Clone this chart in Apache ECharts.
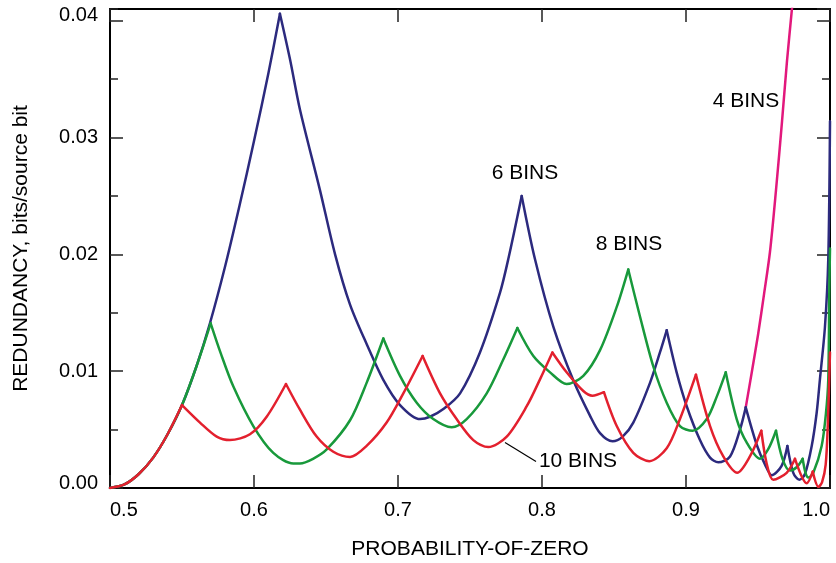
<!DOCTYPE html>
<html>
<head>
<meta charset="utf-8">
<script src="https://cdn.jsdelivr.net/npm/echarts@6/dist/echarts.min.js"></script>
<style>
	html, body { margin: 0; padding: 0; background: #fff; }
	#chart { width: 836px; height: 563px; }
</style>
</head>
<body>
<div id="chart"></div>
<script>
	// values, [probability-of-zero, redundancy]
	var bins4 = [
		[0.9415, 0.0069], [0.9458, 0.0100], [0.9500, 0.0131], [0.9542, 0.0166],
		[0.9583, 0.0202], [0.9625, 0.0255], [0.9667, 0.0314], [0.9701, 0.0365],
		[0.9738, 0.0413]
	];
	var bins6 = [
		[0.5, 0], [0.51, 0.0003], [0.52, 0.0012], [0.53, 0.0026], [0.54, 0.0046],
		[0.55, 0.0071], [0.56, 0.0104], [0.5694, 0.0141], [0.58, 0.0190],
		[0.59, 0.0242], [0.60, 0.0297], [0.61, 0.0355], [0.618, 0.0406],
		[0.625, 0.0367], [0.6319, 0.0324], [0.6458, 0.0255], [0.6563, 0.0200],
		[0.6667, 0.0157], [0.6783, 0.0123], [0.6896, 0.0093], [0.7014, 0.0071],
		[0.7153, 0.0059], [0.7222, 0.0061], [0.732, 0.0068], [0.7431, 0.0081],
		[0.7569, 0.0116], [0.7708, 0.0167], [0.7766, 0.0196], [0.7859, 0.0250],
		[0.7951, 0.0196], [0.8079, 0.0138], [0.8218, 0.0092], [0.8333, 0.0062],
		[0.8403, 0.0047], [0.849, 0.0040], [0.856, 0.0044], [0.8634, 0.0056],
		[0.875, 0.0090], [0.8819, 0.0116], [0.8866, 0.0135], [0.8935, 0.0099],
		[0.9005, 0.0070], [0.9097, 0.0041], [0.9167, 0.0026], [0.9224, 0.0022],
		[0.9306, 0.0027], [0.9375, 0.0050], [0.9415, 0.0069], [0.9491, 0.0037],
		[0.9549, 0.0020], [0.9595, 0.0011], [0.9664, 0.0019], [0.9704, 0.0036],
		[0.9745, 0.0013], [0.9787, 0.0007], [0.9826, 0.0012], [0.9873, 0.0036],
		[0.9907, 0.0064], [0.993, 0.0093], [0.9965, 0.0138], [0.9988, 0.0196],
		[1.0, 0.0314]
	];
	var bins8 = [
		[0.5, 0], [0.51, 0.0003], [0.52, 0.0012], [0.53, 0.0026], [0.54, 0.0046],
		[0.55, 0.0071], [0.56, 0.0104], [0.5699, 0.0141], [0.577, 0.0115],
		[0.5856, 0.0087], [0.5995, 0.0053], [0.6134, 0.0030], [0.6273, 0.0021],
		[0.6319, 0.0021], [0.641, 0.0025], [0.6505, 0.0033], [0.6667, 0.0058],
		[0.6782, 0.0090], [0.6898, 0.0128], [0.7014, 0.0096], [0.713, 0.0073],
		[0.7245, 0.0059], [0.7373, 0.0052], [0.7477, 0.0059], [0.7616, 0.0081],
		[0.7731, 0.0110], [0.7829, 0.0137], [0.794, 0.0113], [0.8056, 0.0099],
		[0.8171, 0.0089], [0.8287, 0.0096], [0.8403, 0.0118], [0.8519, 0.0155],
		[0.8599, 0.0187], [0.868, 0.0147], [0.8773, 0.0104], [0.8866, 0.0073],
		[0.8958, 0.0053], [0.9046, 0.0049], [0.9144, 0.0059], [0.9213, 0.0078],
		[0.9276, 0.0099], [0.9352, 0.0059], [0.9421, 0.0039], [0.9514, 0.0025],
		[0.957, 0.0033], [0.9625, 0.0049], [0.967, 0.0025], [0.9722, 0.0015],
		[0.977, 0.0018], [0.981, 0.0025], [0.983, 0.0013], [0.985, 0.0009],
		[0.9884, 0.0013], [0.9942, 0.0036], [0.9972, 0.0064], [0.9988, 0.0093],
		[0.9995, 0.0167], [1.0, 0.0205]
	];
	var bins10 = [
		[0.5, 0], [0.51, 0.0003], [0.52, 0.0012], [0.53, 0.0026], [0.54, 0.0046],
		[0.55, 0.0071], [0.5625, 0.0056], [0.5741, 0.0044], [0.5833, 0.0041],
		[0.5972, 0.0046], [0.6088, 0.0061], [0.6222, 0.0089], [0.6319, 0.0067],
		[0.6435, 0.0044], [0.6551, 0.0031], [0.6667, 0.00265], [0.6782, 0.0036],
		[0.6921, 0.0056], [0.7037, 0.0081], [0.7171, 0.0113], [0.7292, 0.0081],
		[0.7407, 0.0059], [0.7523, 0.0041], [0.7627, 0.0035], [0.7755, 0.0044],
		[0.7894, 0.0070], [0.7986, 0.0093], [0.8072, 0.0116], [0.8171, 0.0099],
		[0.8287, 0.0083], [0.835, 0.0079], [0.843, 0.0082], [0.8519, 0.0053],
		[0.8634, 0.0030], [0.8745, 0.0023], [0.8866, 0.0034], [0.8958, 0.0059],
		[0.9069, 0.0097], [0.9167, 0.0053], [0.9259, 0.0027], [0.9356, 0.0013],
		[0.9444, 0.0027], [0.9523, 0.0049], [0.956, 0.0021], [0.9606, 0.0007],
		[0.9699, 0.0013], [0.9757, 0.0025], [0.9803, 0.0010], [0.9838, 0.0004],
		[0.988, 0.0014], [0.992, 0.0001], [0.9945, 0.0005], [0.997, 0.0020],
		[0.9985, 0.0055], [1.0, 0.0116]
	];
	var seriesNames = ['4 BINS', '6 BINS', '8 BINS', '10 BINS'];
	var seriesColors = ['#e2187c', '#2c2a7e', '#18993b', '#e3202e'];

	var FONT = '"Liberation Sans", Arial, Helvetica, sans-serif';
	var tickStyle = {color: '#222', width: 1.5};
	var lineAxis = {show: true, onZero: false, lineStyle: {color: '#000', width: 2}};

	function xAx(pos, labels){
		return {
			type: 'value', position: pos, min: 0.5, max: 1.0, interval: 0.1,
			axisLine: lineAxis,
			axisTick: {show: true, inside: true, length: 13, lineStyle: tickStyle},
			axisLabel: labels ? {
				show: true, color: '#000', fontSize: 20, fontFamily: FONT, margin: 12,
				alignMinLabel: 'left', alignMaxLabel: 'right',
				formatter: function(v){ return v.toFixed(1); }
			} : {show: false},
			splitLine: {show: false},
			name: labels ? 'PROBABILITY-OF-ZERO' : '',
			nameLocation: 'middle', nameGap: 51,
			nameTextStyle: {color: '#000', fontSize: 21, fontFamily: FONT}
		};
	}
	function yAx(pos, interval, len, labels, line){
		return {
			type: 'value', position: pos, min: 0, max: 0.041, interval: interval,
			axisLine: line ? lineAxis : {show: false, onZero: false},
			axisTick: {show: true, inside: true, length: len, lineStyle: tickStyle},
			axisLabel: labels ? {
				show: true, color: '#000', fontSize: 20, fontFamily: FONT, margin: 12,
				showMaxLabel: false,
				rich: {e: {color: '#000', fontSize: 20, fontFamily: FONT, padding: [0, 0, 10, 0]}},
				formatter: function(v){
					if (Math.abs(v * 100 - Math.round(v * 100)) > 1e-6) return '';
					var s = v.toFixed(2);
					// the end labels sit a little higher in the original
					return (s === '0.00' || s === '0.04') ? '{e|' + s + '}' : s;
				}
			} : {show: false},
			splitLine: {show: false},
			name: labels ? 'REDUNDANCY, bits/source bit' : '',
			nameLocation: 'middle', nameGap: 78, nameRotate: 90,
			nameTextStyle: {color: '#000', fontSize: 21, fontFamily: FONT}
		};
	}

	// cut a curve at its peaks so each arc is smoothed on its own and the cusps stay sharp
	function arcs(d){
		var out = [], cur = [d[0]];
		for (var i = 1; i < d.length; i++) {
			cur.push(d[i]);
			if (i < d.length - 1 && d[i][1] > d[i - 1][1] && d[i][1] > d[i + 1][1]) {
				out.push(cur);
				cur = [d[i]];
			}
		}
		out.push(cur);
		return out;
	}

	var chart = echarts.init(document.getElementById('chart'), null, {renderer: 'canvas'});
	var allData = [bins4, bins6, bins8, bins10];
	var series = [];
	allData.forEach(function(d, i){
		arcs(d).forEach(function(seg){
			series.push({
				name: seriesNames[i], type: 'line', data: seg,
				xAxisIndex: 0, yAxisIndex: 0,
				symbol: 'none', showSymbol: false, clip: true,
				smooth: 0.3,
				lineStyle: {color: seriesColors[i], width: 2.5, cap: 'round', join: 'round'},
				itemStyle: {color: seriesColors[i]}
			});
		});
	});

	chart.setOption({
		animation: false,
		backgroundColor: '#fff',
		grid: {left: 110, right: 6, top: 9, bottom: 75, containLabel: false, outerBoundsMode: 'none'},
		xAxis: [xAx('bottom', true), xAx('top', false)],
		yAxis: [
			yAx('left', 0.01, 13, true, true),
			yAx('left', 0.005, 8, false, false),
			yAx('right', 0.01, 13, false, true),
			yAx('right', 0.005, 8, false, false)
		],
		series: series,
		graphic: [
			{type: 'text', x: 746, y: 101, style: {text: '4 BINS', font: '21px ' + FONT, fill: '#000', textAlign: 'center', textVerticalAlign: 'middle', align: 'center', verticalAlign: 'middle'}},
			{type: 'text', x: 525, y: 173, style: {text: '6 BINS', font: '21px ' + FONT, fill: '#000', textAlign: 'center', textVerticalAlign: 'middle', align: 'center', verticalAlign: 'middle'}},
			{type: 'text', x: 629, y: 244, style: {text: '8 BINS', font: '21px ' + FONT, fill: '#000', textAlign: 'center', textVerticalAlign: 'middle', align: 'center', verticalAlign: 'middle'}},
			{type: 'text', x: 578, y: 461, style: {text: '10 BINS', font: '21px ' + FONT, fill: '#000', textAlign: 'center', textVerticalAlign: 'middle', align: 'center', verticalAlign: 'middle'}},
			{type: 'line', shape: {x1: 505, y1: 442.5, x2: 536, y2: 461.5}, style: {stroke: '#000', lineWidth: 1.2}}
		]
	});
</script>
</body>
</html>
